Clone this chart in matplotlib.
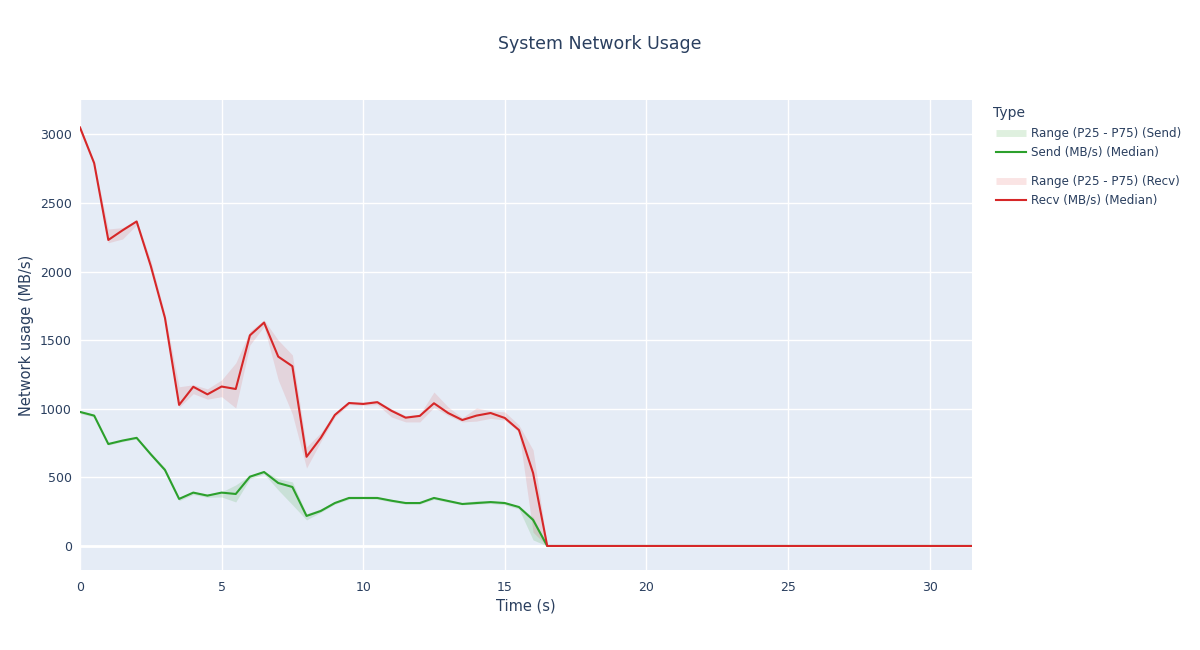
import numpy as np
import matplotlib
matplotlib.use("Agg")
import matplotlib.pyplot as plt
from matplotlib.lines import Line2D

plt.rcParams['font.family'] = ['DejaVu Sans']

# ---- data ----
time_s = [i * 0.5 for i in range(64)]  # 0 .. 31.5

recv_median_active = [3050, 2790, 2230, 2300, 2365, 2040, 1662, 1028, 1160, 1105,
                      1162, 1144, 1535, 1628, 1380, 1310, 650, 787, 955, 1042,
                      1035, 1048, 985, 935, 948, 1040, 969, 918, 950, 969,
                      933, 845, 532, 0]
recv_p25_active = [3020, 2770, 2210, 2237, 2340, 2020, 1640, 1010, 1110, 1070,
                   1088, 1006, 1465, 1600, 1210, 960, 568, 760, 940, 1030,
                   1025, 1030, 940, 904, 904, 1010, 950, 904, 910, 930,
                   918, 831, 100, 0]
recv_p75_active = [3060, 2800, 2310, 2320, 2375, 2080, 1690, 1160, 1175, 1145,
                   1210, 1334, 1565, 1647, 1500, 1392, 722, 824, 970, 1050,
                   1050, 1058, 1000, 950, 960, 1122, 1013, 935, 1006, 985,
                   977, 882, 700, 0]

send_median_active = [977, 950, 743, 768, 788, 668, 554, 343, 389, 367,
                      389, 379, 505, 539, 459, 430, 219, 255, 313, 350,
                      350, 350, 330, 313, 313, 350, 328, 306, 313, 320,
                      313, 284, 190, 0]
send_p25_active = [965, 940, 735, 760, 780, 655, 540, 330, 375, 355,
                   357, 321, 490, 525, 408, 300, 190, 245, 305, 340,
                   342, 340, 320, 305, 305, 340, 318, 300, 305, 310,
                   300, 270, 44, 0]
send_p75_active = [985, 960, 750, 775, 795, 680, 570, 355, 395, 380,
                   394, 445, 515, 545, 490, 467, 235, 270, 325, 355,
                   356, 356, 340, 320, 320, 358, 335, 315, 330, 328,
                   320, 290, 211, 0]

idle = [0] * (64 - 34)
recv_median = recv_median_active + idle
recv_p25 = recv_p25_active + idle
recv_p75 = recv_p75_active + idle
send_median = send_median_active + idle
send_p25 = send_p25_active + idle
send_p75 = send_p75_active + idle

x_ticks = [0, 5, 10, 15, 20, 25, 30]
y_ticks = [0, 500, 1000, 1500, 2000, 2500, 3000]

# ---- style ----
TXT = '#2a3f5f'
BG = '#E5ECF6'
GREEN = '#2ca02c'
RED = '#d62728'

fig = plt.figure(figsize=(12, 6.5), dpi=100)
ax = fig.add_axes([80 / 1200, 80 / 650, 892 / 1200, 470 / 650])
ax.set_facecolor(BG)
for s in ax.spines.values():
    s.set_visible(False)

ax.set_xlim(0, 31.5)
ax.set_ylim(-175, 3250)
ax.set_xticks(x_ticks)
ax.set_yticks(y_ticks)
ax.grid(True, color='white', linewidth=1.0)
ax.set_axisbelow(True)
ax.axhline(0, color='white', linewidth=2.0, zorder=1)
ax.tick_params(length=0, colors=TXT, labelsize=9, pad=6)
ax.tick_params(axis='x', pad=8)

ax.fill_between(time_s, send_p25, send_p75, color=GREEN, alpha=0.15, linewidth=0, zorder=2)
ax.plot(time_s, send_median, color=GREEN, linewidth=1.5, zorder=3)
ax.fill_between(time_s, recv_p25, recv_p75, color=RED, alpha=0.12, linewidth=0, zorder=2)
ax.plot(time_s, recv_median, color=RED, linewidth=1.5, zorder=4)

ax.set_xlabel('Time (s)', color=TXT, fontsize=10.5, labelpad=3)
ax.set_ylabel('Network usage (MB/s)', color=TXT, fontsize=10.5, labelpad=4)

fig.text(600 / 1200, 1 - 44 / 650, 'System Network Usage', ha='center', va='center',
         color=TXT, fontsize=12.5)

# ---- legend (manual) ----
def fy(py):
    return 1 - py / 650

fig.text(993 / 1200, fy(113), 'Type', ha='left', va='center', color=TXT, fontsize=10)
entries = [
    (133, 'band', GREEN, 0.15, 'Range (P25 - P75) (Send)'),
    (152, 'line', GREEN, 1.0, 'Send (MB/s) (Median)'),
    (181, 'band', RED, 0.12, 'Range (P25 - P75) (Recv)'),
    (200, 'line', RED, 1.0, 'Recv (MB/s) (Median)'),
]
for py, kind, col, a, label in entries:
    if kind == 'band':
        fig.add_artist(Line2D([996 / 1200, 1026 / 1200], [fy(py), fy(py)], color=col,
                              alpha=a, linewidth=5, transform=fig.transFigure,
                              solid_capstyle='butt'))
    else:
        fig.add_artist(Line2D([996 / 1200, 1026 / 1200], [fy(py), fy(py)], color=col,
                              linewidth=1.5, transform=fig.transFigure))
    fig.text(1031 / 1200, fy(py), label, ha='left', va='center', color=TXT, fontsize=8.6)

fig.savefig('out.png', dpi=100, facecolor='white')
